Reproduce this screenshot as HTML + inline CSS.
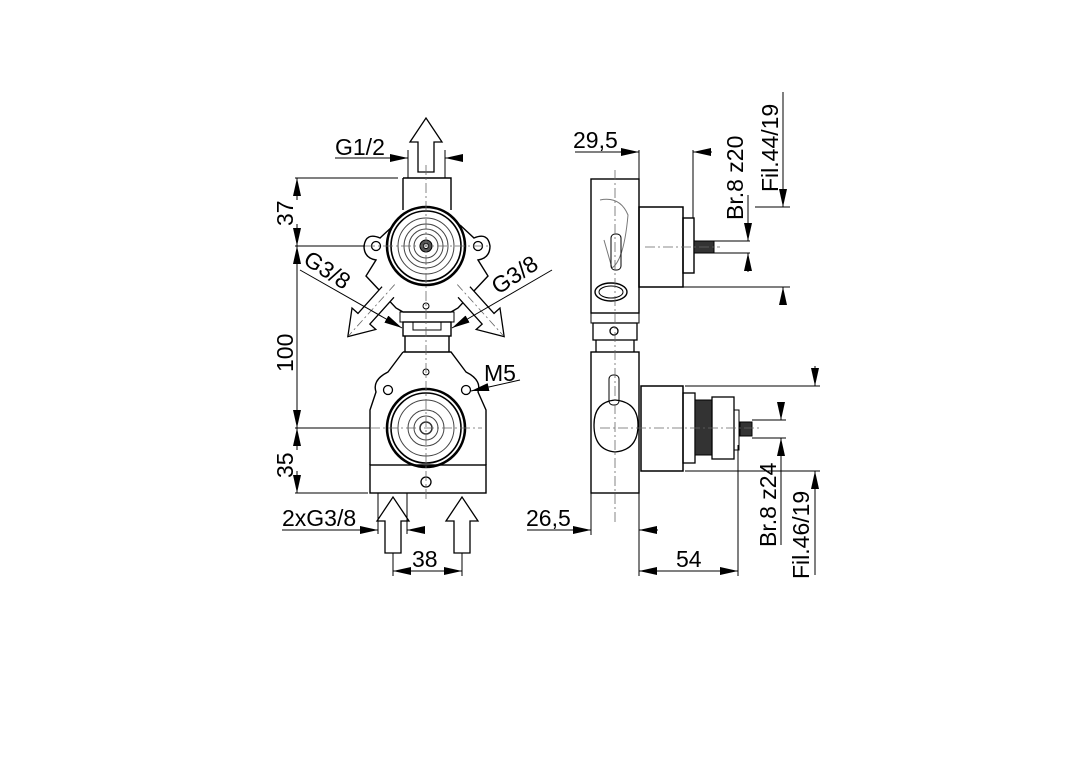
<!DOCTYPE html>
<html><head><meta charset="utf-8"><style>
html,body{margin:0;padding:0;background:#fff;width:1080px;height:763px;overflow:hidden}
svg{display:block}
text{font-family:"Liberation Sans",sans-serif;font-size:23px;fill:#000}
</style></head><body>
<svg width="1080" height="763" viewBox="0 0 1080 763" xmlns="http://www.w3.org/2000/svg">
<defs>
<marker id="a" markerUnits="userSpaceOnUse" markerWidth="20" markerHeight="8" refX="18" refY="4" orient="auto"><path d="M0,0 L18,4 L0,8 z" fill="#000"/></marker>
</defs>
<g fill="none" stroke="#000" stroke-width="1">
<path d="M418,172 V142 H410 L426,118 L442,142 H434 V172 z" stroke-width="1.3"/>
<line x1="335" y1="158" x2="408" y2="158" marker-end="url(#a)"/>
<line x1="463" y1="158" x2="445" y2="158" marker-end="url(#a)"/>
<line x1="408" y1="150" x2="408" y2="178"/><line x1="445" y1="150" x2="445" y2="178"/>
<path d="M403,178 H451 V210 M403,178 V210" stroke-width="1.4"/>
<line x1="295" y1="178" x2="398" y2="178"/>
<line x1="295" y1="246" x2="365" y2="246"/>
<line x1="295" y1="428" x2="370" y2="428"/>
<line x1="295" y1="493" x2="368" y2="493"/>
<line x1="297" y1="200" x2="297" y2="178" marker-end="url(#a)"/>
<line x1="297" y1="224" x2="297" y2="246" marker-end="url(#a)"/>
<line x1="297" y1="268" x2="297" y2="246" marker-end="url(#a)"/>
<line x1="297" y1="406" x2="297" y2="428" marker-end="url(#a)"/>
<line x1="297" y1="268" x2="297" y2="406"/>
<line x1="297" y1="450" x2="297" y2="428" marker-end="url(#a)"/>
<line x1="297" y1="471" x2="297" y2="493" marker-end="url(#a)"/>
<path d="M394,225 L380,238 Q366,232 364,246 Q364,258 376,260 L366,276 L396,308 L403,312 H451 L458,308 L488,276 L478,260 Q490,258 490,246 Q488,232 474,238 L460,225" stroke-width="1.4"/>
<circle cx="376" cy="246" r="4.5" stroke-width="1.3"/><circle cx="478" cy="246" r="4.5" stroke-width="1.3"/>
<circle cx="426" cy="246" r="39" stroke-width="2.6"/>
<circle cx="426" cy="246" r="35" stroke-width="1.6"/>
<circle cx="426" cy="246" r="28" stroke="#444"/>
<circle cx="426" cy="246" r="22" stroke="#444"/>
<circle cx="426" cy="246" r="17" stroke="#444"/>
<circle cx="426" cy="246" r="12" stroke="#444"/>
<circle cx="426" cy="246" r="6" fill="#555"/>
<circle cx="426" cy="246" r="2.5" fill="#fff"/>
<circle cx="426" cy="306" r="3"/>
<path transform="translate(388,292) rotate(42)" d="M-8,0 V36 H-16 L0,60 L16,36 H8 V0" stroke-width="1.3" fill="#fff"/>
<path transform="translate(464,292) rotate(-42)" d="M-8,0 V36 H-16 L0,60 L16,36 H8 V0" stroke-width="1.3" fill="#fff"/>
<g stroke="#666" stroke-dasharray="8,3,2,3" stroke-width="0.8">
<line transform="translate(388,292) rotate(42)" x1="0" y1="-10" x2="0" y2="58"/>
<line transform="translate(464,292) rotate(-42)" x1="0" y1="-10" x2="0" y2="58"/>
</g>
<rect x="400" y="312" width="54" height="10"/>
<rect x="403" y="322" width="48" height="14" stroke-width="1.4"/>
<rect x="413" y="322" width="28" height="8"/>
<path d="M405,336 V352 M449,336 V352" stroke-width="1.4"/>
<path d="M403,352 H451 L466,372 Q482,380 478,392 L486,410 V465 M403,352 L388,372 Q372,380 376,392 L370,410 V465" stroke-width="1.4"/>
<rect x="370" y="465" width="116" height="28" stroke-width="1.4"/>
<circle cx="426" cy="372" r="3"/>
<circle cx="388" cy="390" r="4.5" stroke-width="1.3"/><circle cx="466" cy="390" r="4.5" stroke-width="1.3"/>
<circle cx="426" cy="482" r="5" stroke-width="1.3"/>
<circle cx="426" cy="428" r="39" stroke-width="2.6"/>
<circle cx="426" cy="428" r="35" stroke-width="1.6"/>
<circle cx="426" cy="428" r="28" stroke="#444"/>
<circle cx="426" cy="428" r="18" stroke="#444"/>
<circle cx="426" cy="428" r="12" stroke="#444"/>
<circle cx="426" cy="428" r="6" stroke="#333" stroke-width="1.5"/>
<line x1="300" y1="270" x2="402" y2="328" marker-end="url(#a)"/>
<line x1="552" y1="270" x2="452" y2="328" marker-end="url(#a)"/>
<line x1="520" y1="380" x2="471" y2="391" marker-end="url(#a)"/>
<path d="M385,553 V521 H377 L393,497 L409,521 H401 V553 z" stroke-width="1.3"/>
<path d="M454,553 V521 H446 L462,497 L478,521 H470 V553 z" stroke-width="1.3"/>
<line x1="378" y1="493" x2="378" y2="534"/><line x1="407" y1="493" x2="407" y2="534"/>
<line x1="282" y1="530" x2="378" y2="530" marker-end="url(#a)"/>
<line x1="425" y1="530" x2="407" y2="530" marker-end="url(#a)"/>
<line x1="393" y1="553" x2="393" y2="576"/><line x1="462" y1="553" x2="462" y2="576"/>
<line x1="427" y1="571" x2="393" y2="571" marker-end="url(#a)"/>
<line x1="427" y1="571" x2="462" y2="571" marker-end="url(#a)"/>
<g stroke="#666" stroke-dasharray="10,3,2,3" stroke-width="0.8">
<line x1="426" y1="165" x2="426" y2="500"/>
<line x1="365" y1="246" x2="488" y2="246"/>
<line x1="370" y1="428" x2="482" y2="428"/>
</g>

<rect x="591" y="179" width="48" height="134" stroke-width="1.4"/>
<path d="M600,200 Q620,196 628,215 Q624,260 612,268 L604,240" stroke="#777"/>
<rect x="611" y="234" width="10" height="36" rx="4"/>
<ellipse cx="611" cy="292" rx="16" ry="9" stroke-width="1.4"/>
<ellipse cx="611" cy="292" rx="12" ry="6"/>
<rect x="591" y="313" width="48" height="10"/>
<rect x="593" y="323" width="44" height="17" stroke-width="1.3"/>
<circle cx="614" cy="331" r="4" stroke-width="1.3"/>
<path d="M596,340 V352 M634,340 V352" stroke-width="1.3"/>
<rect x="591" y="352" width="48" height="141" stroke-width="1.4"/>
<rect x="609" y="375" width="10" height="30" rx="4"/>
<path d="M594,425 Q594,402 615,400 Q638,402 638,425 Q638,450 615,452 Q594,450 594,425 z" stroke-width="1.3"/>
<rect x="639" y="207" width="44" height="80" stroke-width="1.5"/>
<rect x="683" y="218" width="11" height="55" stroke-width="1.4"/>
<rect x="694" y="241" width="20" height="12" fill="#333"/>
<rect x="641" y="386" width="42" height="85" stroke-width="1.5"/>
<rect x="683" y="393" width="12" height="70" stroke-width="1.3"/>
<rect x="695" y="400" width="17" height="55" fill="#333"/>
<rect x="712" y="397" width="22" height="62" stroke-width="1.3"/>
<rect x="734" y="410" width="5" height="40"/>
<rect x="740" y="422" width="12" height="14" fill="#333"/>
<g stroke="#666" stroke-dasharray="10,3,2,3" stroke-width="0.8">
<line x1="615" y1="170" x2="615" y2="525"/>
<line x1="645" y1="247" x2="720" y2="247"/>
<line x1="600" y1="428" x2="760" y2="428"/>
</g>
<line x1="639" y1="150" x2="639" y2="207"/><line x1="693" y1="150" x2="693" y2="218"/>
<line x1="575" y1="152" x2="639" y2="152" marker-end="url(#a)"/>
<line x1="712" y1="152" x2="693" y2="152" marker-end="url(#a)"/>
<line x1="714" y1="241" x2="750" y2="241"/><line x1="714" y1="253" x2="750" y2="253"/>
<line x1="748" y1="222" x2="748" y2="241" marker-end="url(#a)"/>
<line x1="748" y1="272" x2="748" y2="253" marker-end="url(#a)"/>
<line x1="748" y1="195" x2="748" y2="222"/>
<line x1="755" y1="207" x2="790" y2="207"/><line x1="683" y1="287" x2="790" y2="287"/>
<line x1="783" y1="92" x2="783" y2="207" marker-end="url(#a)"/>
<line x1="783" y1="305" x2="783" y2="287" marker-end="url(#a)"/>
<line x1="685" y1="386" x2="820" y2="386"/><line x1="685" y1="471" x2="820" y2="471"/>
<line x1="815" y1="366" x2="815" y2="386" marker-end="url(#a)"/>
<line x1="815" y1="575" x2="815" y2="471" marker-end="url(#a)"/>
<line x1="752" y1="420" x2="786" y2="420"/><line x1="752" y1="438" x2="786" y2="438"/>
<line x1="781" y1="402" x2="781" y2="420" marker-end="url(#a)"/>
<line x1="781" y1="545" x2="781" y2="438" marker-end="url(#a)"/>
<line x1="591" y1="493" x2="591" y2="535"/><line x1="639" y1="471" x2="639" y2="576"/>
<line x1="527" y1="530" x2="591" y2="530" marker-end="url(#a)"/>
<line x1="658" y1="530" x2="639" y2="530" marker-end="url(#a)"/>
<line x1="738" y1="445" x2="738" y2="576"/>
<line x1="688" y1="571" x2="639" y2="571" marker-end="url(#a)"/>
<line x1="688" y1="571" x2="738" y2="571" marker-end="url(#a)"/>
</g>
<text x="335" y="155">G1/2</text>
<text x="293" y="226" transform="rotate(-90 293 226)">37</text>
<text x="293" y="372" transform="rotate(-90 293 372)">100</text>
<text x="293" y="478" transform="rotate(-90 293 478)">35</text>
<text x="302" y="263" transform="rotate(33 302 263)">G3/8</text>
<text x="498" y="295" transform="rotate(-33 498 295)">G3/8</text>
<text x="484" y="381">M5</text>
<text x="282" y="526">2xG3/8</text>
<text x="412" y="567">38</text>
<text x="573" y="148">29,5</text>
<text x="743" y="220" transform="rotate(-90 743 220)">Br.8 z20</text>
<text x="778" y="192" transform="rotate(-90 778 192)">Fil.44/19</text>
<text x="526" y="526">26,5</text>
<text x="676" y="567">54</text>
<text x="776" y="547" transform="rotate(-90 776 547)">Br.8 z24</text>
<text x="809" y="579" transform="rotate(-90 809 579)">Fil.46/19</text>
</svg>
</body></html>
